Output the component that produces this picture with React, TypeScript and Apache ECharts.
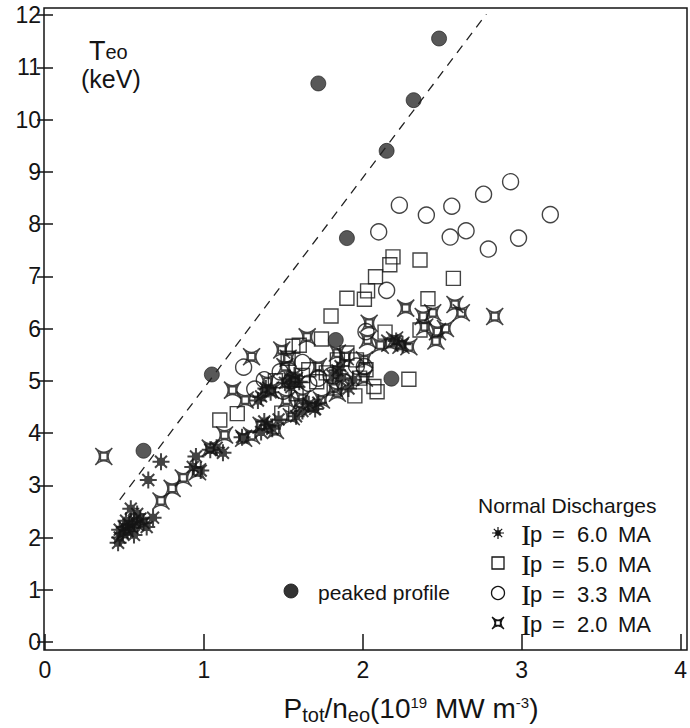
import React, { useEffect, useRef } from "react";
import * as echarts from "echarts";

// ---------- data ----------
const peaked: number[][] = [
  [2.48, 11.55], [1.72, 10.69], [2.32, 10.37], [2.15, 9.4], [1.9, 7.73],
  [1.83, 5.78], [2.18, 5.04], [1.05, 5.12], [0.62, 3.66],
];

const ip60: number[][] = [
  [0.46, 1.9], [0.47, 2.0], [0.49, 2.08], [0.47, 2.15], [0.5, 2.2], [0.52, 2.12],
  [0.53, 2.25], [0.55, 2.18], [0.56, 2.32], [0.58, 2.25], [0.6, 2.36], [0.62, 2.28],
  [0.58, 2.45], [0.54, 2.55], [0.64, 2.2], [0.68, 2.38], [0.51, 2.32], [0.56, 2.05],
  [0.65, 3.1], [0.73, 3.45],
  [0.93, 3.35], [0.95, 3.55], [0.98, 3.28], [1.04, 3.68], [1.08, 3.72], [1.12, 3.62],
  [1.24, 3.92], [1.36, 4.02], [1.4, 4.15], [1.38, 4.22], [1.43, 4.08], [1.47, 4.26],
  [1.36, 4.7], [1.39, 4.85], [1.42, 4.78], [1.34, 4.62],
  [1.51, 4.96], [1.54, 5.05], [1.57, 5.1], [1.6, 4.98], [1.55, 4.88],
  [1.62, 4.42], [1.66, 4.55], [1.72, 4.58], [1.7, 4.46], [1.58, 4.32],
  [1.81, 5.1], [1.84, 5.2], [1.87, 5.05], [1.86, 5.28],
  [1.91, 4.85], [1.94, 5.02], [2.21, 5.76], [2.25, 5.7],
];

const ip50: number[][] = [
  [2.19, 7.37], [2.17, 7.22], [2.36, 7.31], [2.08, 6.99], [2.57, 6.96], [2.03, 6.72],
  [1.9, 6.58], [2.01, 6.56], [2.41, 6.57], [1.8, 6.24], [2.36, 5.97], [2.14, 5.93],
  [1.74, 5.8], [1.6, 5.68], [1.1, 4.25], [1.21, 4.37], [1.95, 4.71], [2.09, 4.79],
  [2.29, 5.03], [1.84, 5.4], [1.9, 5.53], [1.96, 5.4], [2.02, 5.21], [1.66, 5.21],
  [1.53, 5.43], [1.71, 4.98], [2.07, 4.89], [1.49, 4.38], [1.82, 4.86], [1.56, 5.66],
  [1.45, 5.0], [1.62, 5.1], [1.77, 5.15], [1.98, 5.05], [1.58, 4.75],
];

const ip33: number[][] = [
  [2.93, 8.81], [2.76, 8.57], [2.23, 8.36], [2.4, 8.17], [2.56, 8.34], [3.18, 8.18],
  [2.1, 7.85], [2.65, 7.87], [2.55, 7.75], [2.98, 7.73], [2.79, 7.52], [2.15, 6.73],
  [1.25, 5.26], [1.32, 4.84], [1.48, 5.17], [1.66, 4.95], [2.02, 5.94], [1.38, 5.02],
  [1.55, 5.0], [1.8, 5.1], [1.96, 5.28], [1.62, 5.35], [1.88, 4.98], [1.5, 4.8],
  [1.72, 5.05], [2.01, 5.27],
];

const ip20: number[][] = [
  [0.37, 3.55], [0.73, 2.7], [0.8, 2.94], [0.87, 3.14], [0.96, 3.26], [1.04, 3.71],
  [1.13, 3.96], [1.25, 3.9], [1.18, 4.82], [1.26, 4.63], [1.3, 5.46], [1.42, 4.82],
  [1.4, 4.98], [1.51, 5.27], [1.53, 5.43], [1.55, 4.31], [1.52, 4.63], [1.6, 4.57],
  [1.62, 4.66], [1.65, 5.84], [1.72, 5.27], [1.74, 4.63], [1.84, 4.76], [1.82, 4.86],
  [1.84, 5.53], [1.89, 5.46], [2.01, 5.4], [2.01, 5.05], [2.03, 5.78], [2.04, 6.1],
  [2.11, 5.68], [2.2, 5.78], [2.29, 5.65], [2.27, 6.39], [2.38, 6.23], [2.44, 6.3],
  [2.47, 5.94], [2.46, 5.76], [2.58, 6.46], [2.62, 6.3], [2.52, 6.0], [2.39, 6.03],
  [2.83, 6.23], [1.49, 5.59], [1.45, 4.05], [1.36, 4.15], [1.3, 3.95], [1.57, 5.0],
  [1.68, 4.5], [2.17, 5.72], [2.24, 5.68],
];

const dashLine: number[][] = [[0.47, 2.72], [2.78, 12.03]];

const legendValues = ["6.0", "5.0", "3.3", "2.0"];

// ---------- styles ----------
const INK = "#141414";
const SANS = "Liberation Sans";
const SERIF = "Liberation Serif";

const P60 = "M0,10L20,10M10,0L10,20M3,3L17,17M17,3L3,17M6.5,6.5L13.5,6.5L13.5,13.5L6.5,13.5Z";
const P20 = "M0,0Q10,10 20,0Q10,10 20,20Q10,10 0,20Q10,10 0,0ZM6,6L14,6L14,14L6,14Z";

echarts.graphic.registerShape("sym60", echarts.graphic.extendPath(P60, {}) as any);
echarts.graphic.registerShape("sym20", echarts.graphic.extendPath(P20, {}) as any);

const hollow = { color: "rgba(0,0,0,0)", borderColor: INK, borderWidth: 1.4 };
const tickStyle = { color: INK, width: 1.5 };
const tickRich = { v: { fontSize: 23, fontFamily: SANS, color: INK, fill: INK } };

export default function App() {
  const ref = useRef<HTMLDivElement>(null);

  useEffect(() => {
    if (!ref.current) return;
    const chart = echarts.init(ref.current, undefined, { renderer: "svg" });

    const rowY = [533, 563, 593, 623];
    const legendGraphics: any[] = [];
    legendGraphics.push({
      type: "text", x: 478, y: 505,
      style: { text: "Normal Discharges", fontSize: 21, fontFamily: SANS, fill: INK, verticalAlign: "middle" },
    });
    legendValues.forEach((v, i) => {
      const cy = rowY[i];
      const parts: [number, string, number, string][] = [
        [521, "I", 30, SERIF], [530, "p", 22, SANS], [552, "=", 22, SANS], [577, v, 22, SANS], [618, "MA", 22, SANS],
      ];
      parts.forEach(([x, t, fs, ff]) => {
        legendGraphics.push({
          type: "text", x, y: cy + 1,
          style: { text: t, fontSize: fs, fontFamily: ff, fill: INK, verticalAlign: "middle" },
        });
      });
    });
    legendGraphics.push({
      type: "sym60", x: 492, y: rowY[0] - 6, scaleX: 0.6, scaleY: 0.6,
      style: { fill: "none", stroke: INK, lineWidth: 1.2, strokeNoScale: true },
    });
    legendGraphics.push({
      type: "rect", shape: { x: 492, y: rowY[1] - 6, width: 12, height: 12 },
      style: { fill: "none", stroke: INK, lineWidth: 1.3 },
    });
    legendGraphics.push({
      type: "circle", shape: { cx: 498, cy: rowY[2], r: 6.5 },
      style: { fill: "none", stroke: INK, lineWidth: 1.3 },
    });
    legendGraphics.push({
      type: "sym20", x: 492, y: rowY[3] - 6, scaleX: 0.6, scaleY: 0.6,
      style: { fill: "none", stroke: INK, lineWidth: 1.2, strokeNoScale: true },
    });
    legendGraphics.push({
      type: "circle", shape: { cx: 291, cy: 591, r: 7 },
      style: { fill: "#333", stroke: INK, lineWidth: 0.8 },
    });
    legendGraphics.push({
      type: "text", x: 318, y: 592,
      style: { text: "peaked profile", fontSize: 21, fontFamily: SANS, fill: INK, verticalAlign: "middle" },
    });

    const option: any = {
      animation: false,
      backgroundColor: "#ffffff",
      textStyle: { fontFamily: SANS, fontSize: 23, color: INK },
      grid: { left: 45, right: 3, top: 15, bottom: 86, show: false },
      xAxis: [
        {
          type: "value", min: 0, max: 4, interval: 1, position: "bottom", offset: 8,
          axisLine: { show: false }, splitLine: { show: false },
          axisTick: { show: true, inside: true, length: 8, lineStyle: tickStyle },
          axisLabel: {
            margin: 8, showMinLabel: true, showMaxLabel: true,
            fontSize: 23, fontFamily: SANS, color: INK,
            formatter: "{v|{value}}", rich: tickRich,
          },
        },
        {
          type: "value", min: 0, max: 4, interval: 1, position: "top", offset: 7,
          axisLine: { show: false }, splitLine: { show: false },
          axisTick: { show: true, inside: true, length: 8, lineStyle: tickStyle },
          axisLabel: { show: false },
        },
      ],
      yAxis: [
        {
          type: "value", min: 0, max: 12, interval: 1, position: "left", offset: 1,
          axisLine: { show: false }, splitLine: { show: false },
          axisTick: { show: true, inside: true, length: 8, lineStyle: tickStyle },
          axisLabel: {
            margin: 3, showMinLabel: true, showMaxLabel: true,
            fontSize: 23, fontFamily: SANS, color: INK,
            formatter: "{v|{value}}", rich: tickRich,
          },
        },
        {
          type: "value", min: 0, max: 12, interval: 1, position: "right", offset: 0,
          axisLine: { show: false }, splitLine: { show: false },
          axisTick: { show: true, inside: true, length: 8, lineStyle: tickStyle },
          axisLabel: { show: false },
        },
      ],
      series: [
        {
          type: "line", data: dashLine, symbol: "none", silent: true,
          lineStyle: { color: "#222", width: 1.3, type: [9, 7] },
        },
        { type: "scatter", data: ip20, symbol: "path://" + P20, symbolSize: 17, itemStyle: { ...hollow, borderWidth: 1.5 } },
        { type: "scatter", data: ip50, symbol: "rect", symbolSize: 14, itemStyle: hollow },
        { type: "scatter", data: ip33, symbol: "circle", symbolSize: 16, itemStyle: hollow },
        { type: "scatter", data: ip60, symbol: "path://" + P60, symbolSize: 17, itemStyle: { ...hollow, borderWidth: 2 } },
        { type: "scatter", data: peaked, symbol: "circle", symbolSize: 15, itemStyle: { color: "#2e2e2e", borderColor: INK, borderWidth: 0.8 } },
      ],
      graphic: [
        {
          type: "rect", shape: { x: 44, y: 8, width: 643, height: 642 }, silent: true,
          style: { fill: "none", stroke: INK, lineWidth: 1.5 },
        },
        {
          type: "text", x: 89, y: 40,
          style: {
            text: "{t|T}{s|eo}",
            rich: {
              t: { fontSize: 27, fontFamily: SANS, fill: INK, lineHeight: 22 },
              s: { fontSize: 20, fontFamily: SANS, fill: INK, lineHeight: 8, verticalAlign: "bottom" },
            },
          },
        },
        {
          type: "text", x: 81, y: 79,
          style: { text: "(keV)", fontSize: 25, fontFamily: SANS, fill: INK, verticalAlign: "middle", lineHeight: 24 },
        },
        {
          type: "text", x: 411, y: 708,
          style: {
            text: "{a|P}{s|tot}{a|/n}{s|eo}{a|(10}{u|19}{a| MW m}{u|-3}{a|)}",
            align: "center", verticalAlign: "middle",
            rich: {
              a: { fontSize: 28, fontFamily: SANS, fill: INK, lineHeight: 34 },
              s: { fontSize: 20, fontFamily: SANS, fill: INK, lineHeight: 10, verticalAlign: "bottom" },
              u: { fontSize: 15, fontFamily: SANS, fill: INK, lineHeight: 15, verticalAlign: "top", padding: [4, 0, 0, 0] },
            },
          },
        },
        ...legendGraphics,
      ],
    };

    chart.setOption(option);
    return () => chart.dispose();
  }, []);

  return (
    <div
      ref={ref}
      style={{ position: "fixed", left: 0, top: 0, width: 690, height: 728, background: "#fff" }}
    />
  );
}
